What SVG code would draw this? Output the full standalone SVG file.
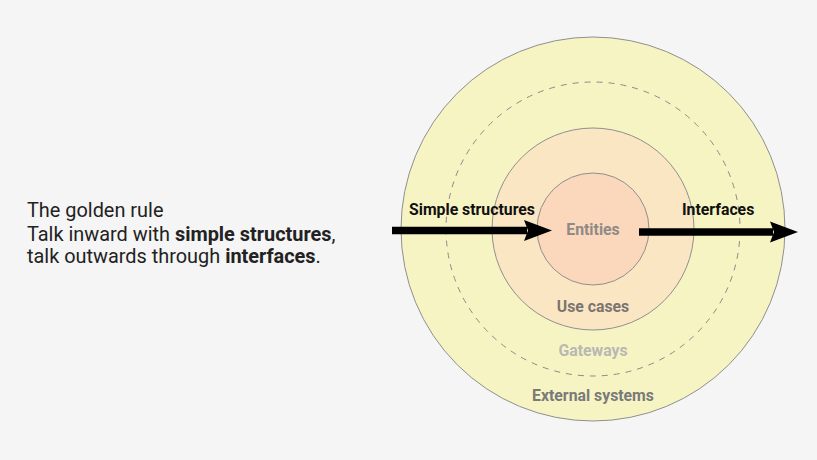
<svg xmlns="http://www.w3.org/2000/svg" width="817" height="460" viewBox="0 0 817 460">
<style>
.ring{stroke:#8f8f8f;stroke-width:1}
.lbl{font-family:Roboto,"Liberation Sans",sans-serif;font-weight:bold;font-size:15.8px;text-anchor:middle}
.arr{font-family:Roboto,"Liberation Sans",sans-serif;font-weight:bold;font-size:15.8px;fill:#111}
.body{font-family:Roboto,"Liberation Sans",sans-serif;font-size:19.9px;fill:#222}
</style>
<defs>
<marker id="ah" viewBox="0 0 28 22" refX="3" refY="11" markerWidth="28" markerHeight="22" orient="auto" markerUnits="userSpaceOnUse">
<path d="M0,0.5 L28,11 L0,21.5 L4,11 Z" fill="#000"/>
</marker>
</defs>
<rect width="817" height="460" fill="#f5f5f5"/>
<g id="external-systems">
<circle cx="593" cy="229" r="192" fill="#f7f4c3" class="ring"/>
<text class="lbl" x="593" y="401" fill="#7a7a7a">External systems</text>
</g>
<g id="gateways">
<circle cx="593" cy="229" r="147" fill="none" stroke="#8a8a8a" stroke-width="1" stroke-dasharray="6,6"/>
<text class="lbl" x="593" y="356" fill="#b8b8b4">Gateways</text>
</g>
<g id="use-cases">
<circle cx="593" cy="229" r="101" fill="#fbe6c4" class="ring"/>
<text class="lbl" x="593" y="312" fill="#7a7570">Use cases</text>
</g>
<g id="entities">
<circle cx="593" cy="229" r="56" fill="#fbd8bc" class="ring"/>
<text class="lbl" x="593" y="235" fill="#8f8a86">Entities</text>
</g>
<g id="connectors">
<line x1="392" y1="230.5" x2="527" y2="230.5" stroke="#000" stroke-width="7.5" marker-end="url(#ah)"/>
<line x1="639" y1="232" x2="773" y2="232" stroke="#000" stroke-width="7.5" marker-end="url(#ah)"/>
<text class="arr" x="409" y="215">Simple structures</text>
<text class="arr" x="682" y="215">Interfaces</text>
</g>
<g id="caption">
<text class="body" x="27" y="217">The golden rule</text>
<text class="body" x="27" y="241">Talk inward with <tspan font-weight="bold">simple structures</tspan>,</text>
<text class="body" x="27" y="263">talk outwards through <tspan font-weight="bold">interfaces</tspan>.</text>
</g>
</svg>
